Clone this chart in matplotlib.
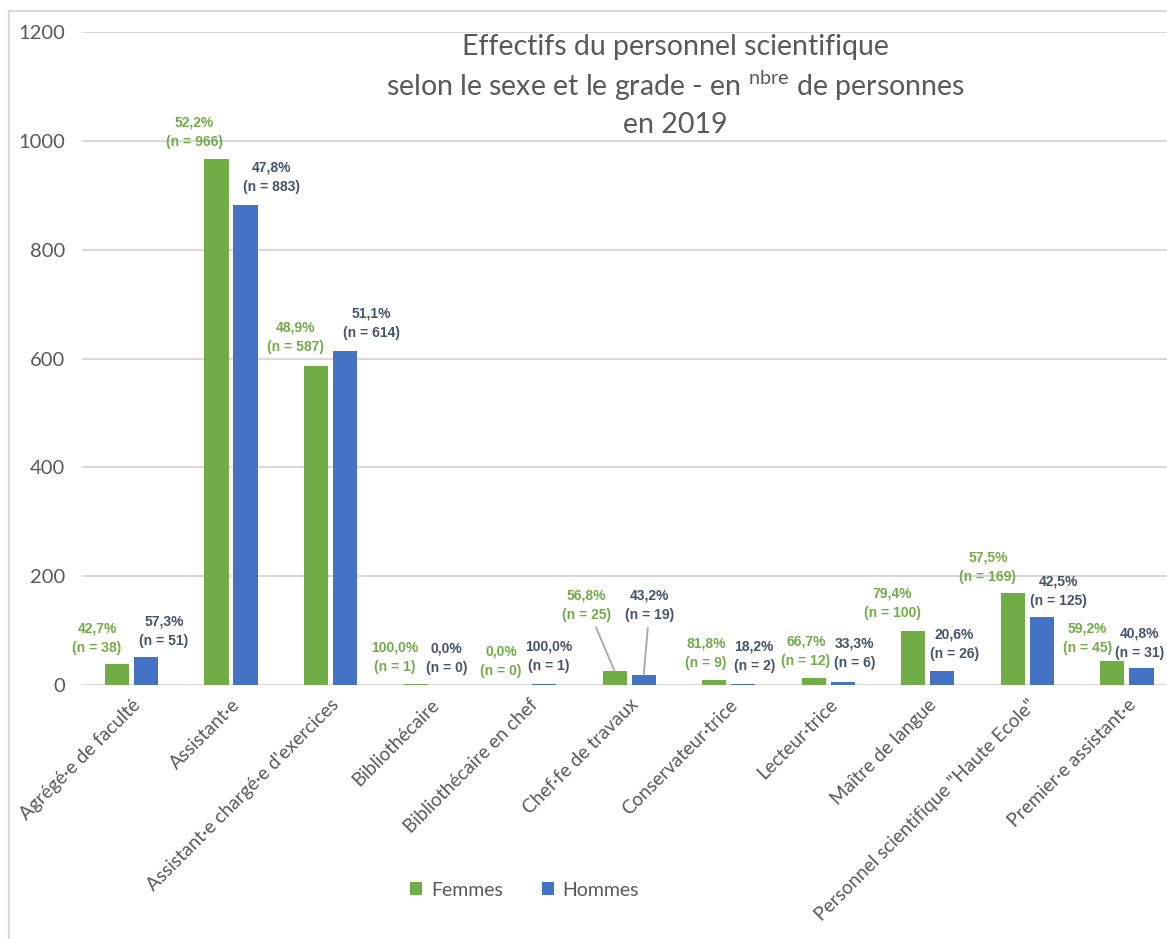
import numpy as np
import matplotlib.pyplot as plt
from matplotlib.patches import Rectangle

plt.rcParams['font.family'] = ['Lato', 'DejaVu Sans']
plt.rcParams['mathtext.default'] = 'regular'

grades = ["Agrégé·e de faculté", "Assistant·e", "Assistant·e chargé·e d'exercices",
          "Bibliothécaire", "Bibliothécaire en chef", "Chef·fe de travaux",
          "Conservateur·trice", "Lecteur·trice", "Maître de langue",
          "Personnel scientifique \"Haute Ecole\"", "Premier·e assistant·e"]
femmes = [38, 966, 587, 1, 0, 25, 9, 12, 100, 169, 45]
hommes = [51, 883, 614, 0, 1, 19, 2, 6, 26, 125, 31]

# label offsets in pixels (dx, dy above bar top)
off_f = [(-20, 26), (-22, 27), (-21, 28), (-21, 27), (-14, 24), (-28, 66),
         (-8, 27), (-8, 27), (-21, 27), (-25, 26), (-25, 22)]
off_h = [(18, 26), (26, 27), (26, 28), (2, 27), (5, 28), (6, 69),
         (11, 28), (12, 28), (12, 27), (17, 26), (-2, 25)]
leaders = {5}

GREEN = '#70AD47'
BLUE = '#4472C4'
GREEN_TXT = '#70AD47'
BLUE_TXT = '#44546A'
GREY = '#595959'

fig = plt.figure(figsize=(11.67, 9.39), dpi=100)
ax = fig.add_axes([81.7 / 1167, 1 - 685 / 939, 1095 / 1167, 653 / 939])

x = np.arange(len(grades))
w = 0.243
d = 0.146
ax.bar(x - d, femmes, w, color=GREEN, label='Femmes', zorder=3)
ax.bar(x + d, hommes, w, color=BLUE, label='Hommes', zorder=3)

lab_font = dict(family=['Liberation Sans', 'DejaVu Sans'],
                fontsize=10, fontweight='bold', ha='center', va='center', linespacing=1.5)


def pct(a, b):
    return f"{100 * a / (a + b):.1f}%".replace('.', ',')


for i in range(len(grades)):
    f, h = femmes[i], hommes[i]
    for val, other, xpos, off, col in [(f, h, x[i] - d, off_f[i], GREEN_TXT),
                                        (h, f, x[i] + d, off_h[i], BLUE_TXT)]:
        txt = f"{pct(val, other)}\n(n = {val})"
        arrow = None
        if i in leaders:
            arrow = dict(arrowstyle='-', color='#A6A6A6', lw=1.3, shrinkA=2, shrinkB=0)
        ax.annotate(txt, xy=(xpos, val), xytext=off, textcoords='offset pixels',
                    color=col, arrowprops=arrow, **lab_font)

ax.set_xlim(-0.5, len(grades) - 0.5)
ax.set_ylim(0, 1200)
ax.set_yticks(range(0, 1201, 200))
ax.yaxis.grid(True, color='#D9D9D9', lw=1.5, zorder=0)
ax.set_axisbelow(True)
for s in ax.spines.values():
    s.set_visible(False)
ax.tick_params(axis='both', length=0, colors=GREY)
ax.tick_params(axis='y', pad=12, labelsize=14.5)
ax.set_xticks(x)
ax.set_xticklabels(grades, rotation=45, ha='right', rotation_mode='anchor',
                   fontsize=13.7, color=GREY)
ax.tick_params(axis='x', pad=8)

title_lines = ["Effectifs du personnel scientifique",
               "selon le sexe et le grade - en $^{nbre}$ de personnes",
               "en 2019"]
for k, line in enumerate(title_lines):
    fig.text(0.579, 1 - (47 + 39 * k) / 939, line, ha='center', va='center',
             fontsize=20.5, color=GREY)

fig.legend(loc='center', bbox_to_anchor=(0.4494, 1 - 890 / 939), ncol=2, frameon=False,
           fontsize=14, handlelength=0.62, handleheight=0.62, columnspacing=2.0,
           handletextpad=0.45, labelcolor=GREY)

fig.patches.append(Rectangle((9 / 1167, -0.05), 1.1, 1.05 - 11 / 939,
                             transform=fig.transFigure, fill=False,
                             edgecolor='#D9D9D9', lw=1.5))

fig.savefig('out.png', dpi=100, facecolor='white')
